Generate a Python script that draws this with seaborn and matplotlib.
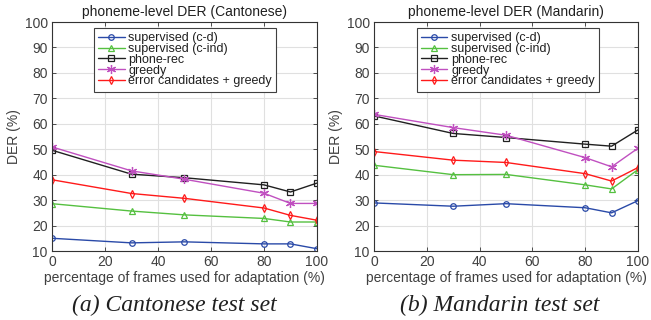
import matplotlib
matplotlib.use("Agg")
import matplotlib.pyplot as plt
import seaborn as sns
import pandas as pd

x_pct = [0, 30, 50, 80, 90, 100]
series_names = ["supervised (c-d)", "supervised (c-ind)", "phone-rec", "greedy",
                "error candidates + greedy"]

cant_cd = [15.0, 13.2, 13.6, 12.8, 12.8, 10.9]
cant_cind = [28.6, 25.7, 24.2, 22.8, 21.4, 21.4]
cant_phone = [49.6, 40.2, 38.8, 36.0, 33.2, 36.7]
cant_greedy = [50.9, 41.5, 38.2, 32.7, 28.7, 28.7]
cant_err = [38.0, 32.6, 30.7, 26.9, 24.0, 22.1]

mand_cd = [28.9, 27.6, 28.6, 27.0, 25.0, 29.8]
mand_cind = [43.7, 40.0, 40.1, 36.0, 34.4, 42.0]
mand_phone = [63.1, 56.2, 54.6, 52.0, 51.2, 57.6]
mand_greedy = [63.7, 58.5, 55.5, 46.7, 43.1, 50.4]
mand_err = [49.1, 45.7, 44.8, 40.4, 37.5, 42.8]

titles = ["phoneme-level DER (Cantonese)", "phoneme-level DER (Mandarin)"]
captions = ["(a) Cantonese test set", "(b) Mandarin test set"]
x_label = "percentage of frames used for adaptation (%)"
y_label = "DER (%)"

colors = ["#2a4aa8", "#55c040", "#202020", "#c050c0", "#ff1a1a"]
markers = ["o", "^", "s", (6, 2, 0), "d"]

sns.set_style("white")
plt.rcParams["font.family"] = ["Liberation Sans", "DejaVu Sans"]

fig = plt.figure(figsize=(6.51, 3.2), dpi=100)
axes = [fig.add_axes([0.0799, 0.2156, 0.407, 0.7156]),
        fig.add_axes([0.5745, 0.2156, 0.4055, 0.7156])]
datasets = [[cant_cd, cant_cind, cant_phone, cant_greedy, cant_err],
            [mand_cd, mand_cind, mand_phone, mand_greedy, mand_err]]
legend_x = [0.158, 0.162]

for i, ax in enumerate(axes):
    rows = []
    for name, vals in zip(series_names, datasets[i]):
        for xv, yv in zip(x_pct, vals):
            rows.append({"x": xv, "y": yv, "series": name})
    df = pd.DataFrame(rows)
    for j, name in enumerate(series_names):
        sub = df[df["series"] == name]
        sns.lineplot(data=sub, x="x", y="y", ax=ax, color=colors[j], marker=markers[j],
                     markersize=4 if j != 3 else 6.5, markerfacecolor="none",
                     markeredgecolor=colors[j], markeredgewidth=0.9, linewidth=1.0,
                     label=name, legend=False)
    ax.set_xlim(0, 100)
    ax.set_ylim(10, 100)
    ax.set_xticks([0, 20, 40, 60, 80, 100])
    ax.set_yticks(range(10, 101, 10))
    ax.grid(True, color="#e0e0e0", linewidth=0.8)
    ax.set_axisbelow(True)
    for s in ax.spines.values():
        s.set_color("#333333")
        s.set_linewidth(0.8)
    ax.tick_params(direction="in", length=3, width=0.6, colors="#333333",
                   labelcolor="#404040", labelsize=10, pad=3,
                   top=True, right=True, bottom=True, left=True)
    ax.set_xlabel(x_label, fontsize=10, color="#404040", labelpad=1)
    ax.set_ylabel(y_label, fontsize=10, color="#404040", labelpad=3)
    ax.set_title(titles[i], fontsize=10, color="#202020", pad=4)
    leg = ax.legend(loc="upper left", bbox_to_anchor=(legend_x[i], 0.974),
                    borderaxespad=0, fontsize=9, handlelength=2.1,
                    handletextpad=0.3, labelspacing=-0.1, borderpad=0.35,
                    frameon=True, fancybox=False, edgecolor="#404040",
                    framealpha=1)
    leg.get_frame().set_linewidth(0.8)
    for t in leg.get_texts():
        t.set_color("#202020")

fig.text(0.268, 0.047, captions[0], ha="center", va="center", fontsize=17,
         family="Liberation Serif", style="italic", color="#202020")
fig.text(0.767, 0.047, captions[1], ha="center", va="center", fontsize=17,
         family="Liberation Serif", style="italic", color="#202020")

fig.savefig("out.png", dpi=100)
